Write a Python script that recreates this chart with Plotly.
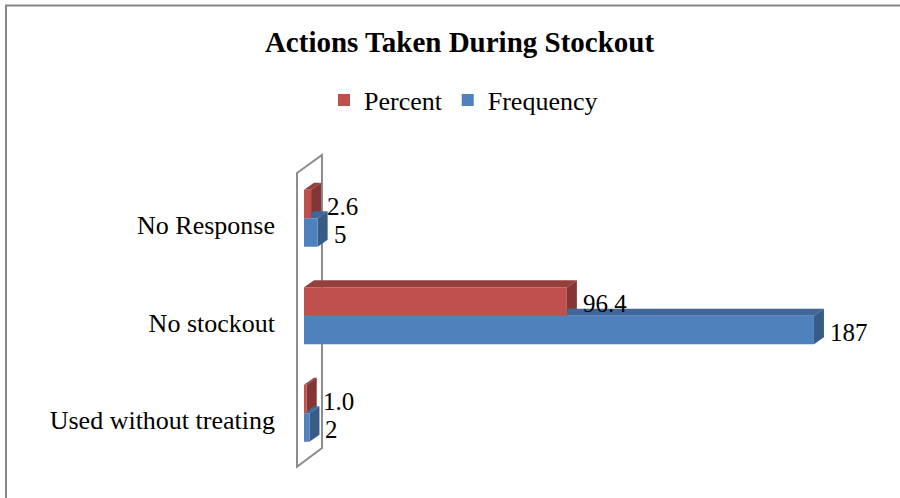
import plotly.graph_objects as go

# ---- data ----
categories = ["Used without treating", "No stockout", "No Response"]
percent = [1.0, 96.4, 2.6]
frequency = [2, 187, 5]
percent_labels = ["1.0", "96.4", "2.6"]
frequency_labels = ["2", "187", "5"]

# ---- layout geometry (pixels) ----
W, H = 900, 498
L, R, T, B = 290, 20, 145, 23
plot_w = W - L - R
plot_h = H - T - B

px_per_x = 2.727          # pixels per value unit
zero_px = 304             # pixel where value 0 sits
xmin = -(zero_px - L) / px_per_x
xmax = (W - R - zero_px) / px_per_x

px_per_y = 97.5           # pixels between categories
y0_px = 413.3             # pixel of first category
ymin = -(H - B - y0_px) / px_per_y
ymax = (y0_px - T) / px_per_y

ypos = list(range(len(categories)))
bar_w = 0.292
dx = 10 / px_per_x        # 3D depth
dy = 7 / px_per_y

RED, RED_TOP, RED_SIDE = "#C0504D", "#94403D", "#833634"
BLUE, BLUE_TOP, BLUE_SIDE = "#4F81BD", "#40679A", "#385C88"
FONT = "Liberation Serif, Times New Roman, serif"

fig = go.Figure()
fig.add_trace(go.Bar(
    y=ypos, x=frequency, orientation="h", name="Frequency",
    width=bar_w, offset=-bar_w, marker=dict(color=BLUE, line=dict(width=0)),
    legendrank=2, hoverinfo="x+name",
))
fig.add_trace(go.Bar(
    y=ypos, x=percent, orientation="h", name="Percent",
    width=bar_w, offset=0, marker=dict(color=RED, line=dict(width=0)),
    legendrank=1, hoverinfo="x+name",
))

shapes = []
# back wall (3D axis panel)
wx0, wx1 = (297 - zero_px) / px_per_x, (322 - zero_px) / px_per_x
def py(p):
    return (y0_px - p) / px_per_y
shapes.append(dict(
    type="path", xref="x", yref="y", layer="below",
    path=f"M{wx0},{py(173)} L{wx1},{py(155)} L{wx1},{py(448)} L{wx0},{py(466.7)} Z",
    line=dict(color="#8C8C8C", width=2), fillcolor="rgba(0,0,0,0)",
))

def faces(values, off, top_col, side_col):
    out = []
    for i, v in zip(ypos, values):
        b = i + off
        t = b + bar_w
        out.append(dict(type="path", xref="x", yref="y", layer="below",
                        path=f"M0,{t} L{v},{t} L{v+dx},{t+dy} L{dx},{t+dy} Z",
                        line=dict(width=0), fillcolor=top_col))
        out.append(dict(type="path", xref="x", yref="y", layer="below",
                        path=f"M{v},{b} L{v+dx},{b+dy} L{v+dx},{t+dy} L{v},{t} Z",
                        line=dict(width=0), fillcolor=side_col))
    return out

shapes += faces(percent, 0, RED_TOP, RED_SIDE)
shapes += faces(frequency, -bar_w, BLUE_TOP, BLUE_SIDE)

# outer chart border
shapes.append(dict(
    type="rect", xref="paper", yref="paper",
    x0=(6 - L) / plot_w, x1=(913 - L) / plot_w,
    y0=(H - B - 515) / plot_h, y1=(H - B - 5.5) / plot_h,
    line=dict(color="#868686", width=2), fillcolor="rgba(0,0,0,0)",
))

annotations = []
for i, v, lab in zip(ypos, percent, percent_labels):
    annotations.append(dict(x=v, y=i + bar_w / 2, xref="x", yref="y", text=lab,
                            showarrow=False, xanchor="left", yanchor="middle",
                            xshift=14, yshift=-2,
                            font=dict(family=FONT, size=25, color="black")))
for i, v, lab in zip(ypos, frequency, frequency_labels):
    annotations.append(dict(x=v, y=i - bar_w / 2, xref="x", yref="y", text=lab,
                            showarrow=False, xanchor="left", yanchor="middle",
                            xshift=14, yshift=-2,
                            font=dict(family=FONT, size=25, color="black")))

label_drop = 7 / px_per_y

fig.update_layout(
    width=W, height=H,
    margin=dict(l=L, r=R, t=T, b=B, pad=0),
    paper_bgcolor="white", plot_bgcolor="white",
    barmode="overlay",
    title=dict(text="<b>Actions Taken During Stockout</b>",
               x=459.5 / W, xanchor="center", xref="container",
               y=1 - 42 / H, yanchor="middle", yref="container",
               font=dict(family=FONT, size=29, color="black")),
    legend=dict(orientation="h", xref="container", yref="container",
                x=324 / W, xanchor="left", y=1 - 100 / H, yanchor="middle",
                font=dict(family=FONT, size=26, color="black"),
                bgcolor="rgba(0,0,0,0)", itemclick=False, itemdoubleclick=False),
    xaxis=dict(visible=False, range=[xmin, xmax], fixedrange=True),
    yaxis=dict(range=[ymin, ymax], tickmode="array",
               tickvals=[p - label_drop for p in ypos], ticktext=categories,
               showgrid=False, zeroline=False, showline=False, ticks="",
               ticklabelstandoff=14,
               tickfont=dict(family=FONT, size=26, color="black"), fixedrange=True),
    shapes=shapes,
    annotations=annotations,
    showlegend=True,
)

fig.write_html("out.html",
               config={"displayModeBar": False},
               post_script="document.body.style.margin='0';document.body.style.overflow='hidden';")
